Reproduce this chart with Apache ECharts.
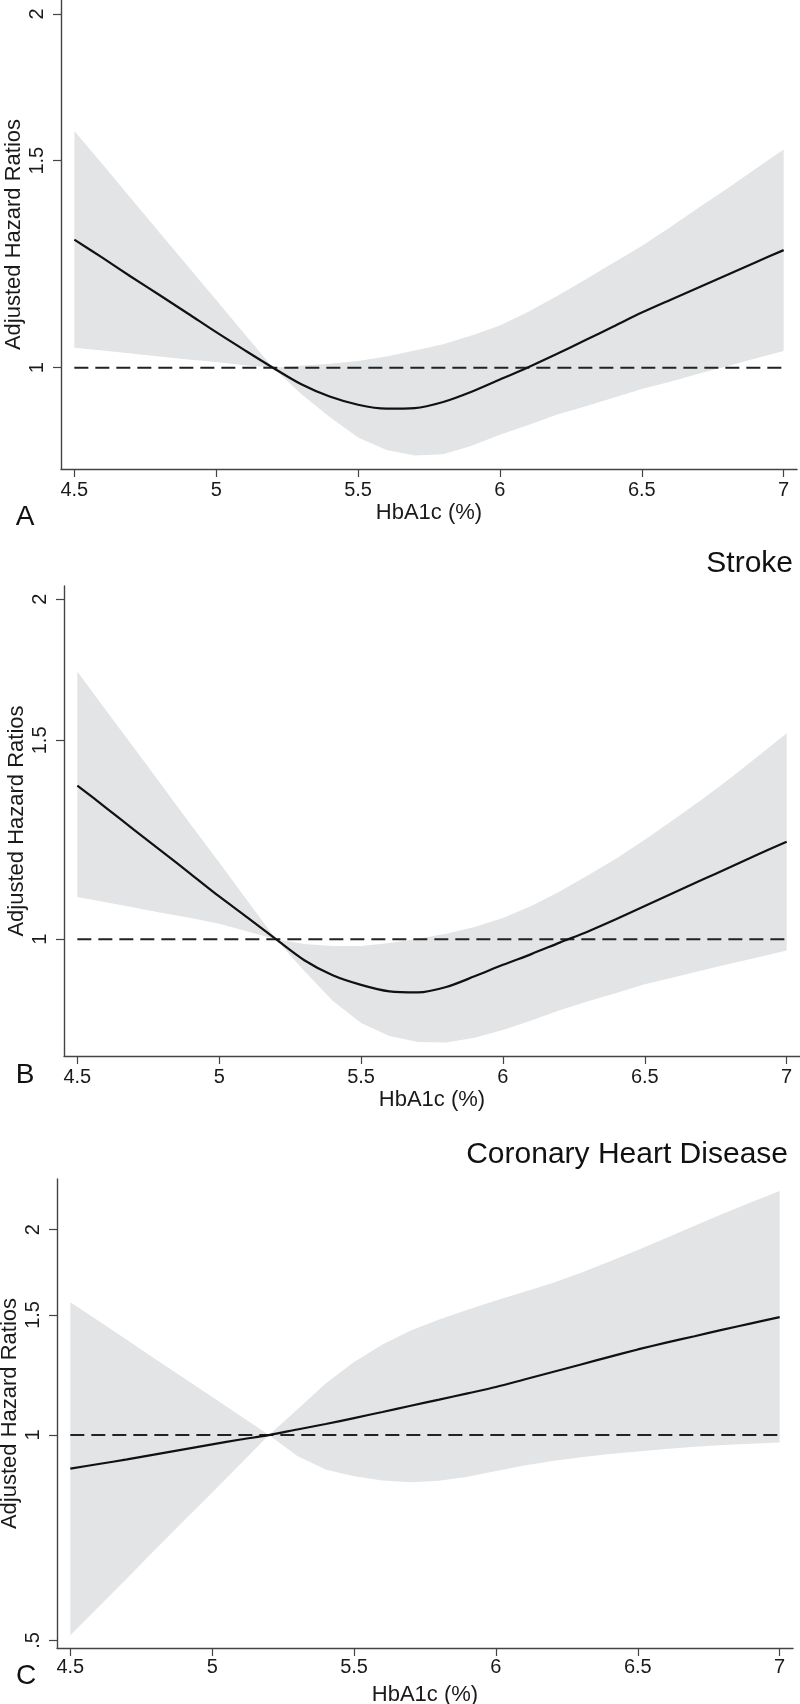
<!DOCTYPE html>
<html>
<head>
<meta charset="utf-8">
<script src="https://cdn.jsdelivr.net/npm/echarts@6/dist/echarts.min.js"></script>
<style>
html,body{margin:0;padding:0;background:#fff;}
#chart{width:800px;height:1704px;}
</style>
</head>
<body>
<div id="chart"></div>
<script>
// HbA1c grid (x values)
const hba1c = [4.5,4.6,4.7,4.8,4.9,5.0,5.1,5.2,5.3,5.4,5.5,5.6,5.7,5.8,5.9,6.0,6.1,6.2,6.3,6.4,6.5,6.6,6.7,6.8,6.9,7.0];

// Panel A
const aHR = [1.285,1.240,1.195,1.153,1.112,1.072,1.035,1.000,0.968,0.945,0.930,0.923,0.924,0.935,0.954,0.977,1.001,1.027,1.055,1.084,1.114,1.142,1.170,1.199,1.229,1.259];
const aHi = [1.590,1.489,1.393,1.303,1.220,1.142,1.068,1.000,1.004,1.008,1.013,1.022,1.034,1.047,1.065,1.086,1.116,1.150,1.188,1.228,1.269,1.317,1.368,1.420,1.476,1.533];
const aLo = [1.040,1.034,1.028,1.022,1.016,1.011,1.005,1.000,0.950,0.908,0.872,0.851,0.842,0.844,0.858,0.877,0.894,0.912,0.927,0.943,0.959,0.973,0.988,1.003,1.018,1.033];

// Panel B: Stroke
const bHR = [1.368,1.308,1.250,1.195,1.142,1.091,1.045,1.000,0.958,0.929,0.911,0.899,0.897,0.907,0.927,0.949,0.970,0.993,1.016,1.042,1.070,1.099,1.128,1.158,1.189,1.220];
const bHi = [1.726,1.596,1.477,1.366,1.263,1.169,1.081,1.000,0.990,0.986,0.986,0.992,1.001,1.011,1.025,1.044,1.070,1.102,1.139,1.179,1.225,1.275,1.329,1.388,1.453,1.522];
const bLo = [1.090,1.078,1.067,1.055,1.044,1.032,1.016,1.000,0.937,0.882,0.843,0.821,0.811,0.810,0.818,0.831,0.847,0.865,0.881,0.896,0.912,0.925,0.938,0.951,0.964,0.977];

// Panel C: Coronary Heart Disease
const cHR = [0.893,0.907,0.921,0.937,0.953,0.969,0.985,1.000,1.019,1.038,1.059,1.081,1.104,1.127,1.151,1.176,1.206,1.237,1.269,1.302,1.335,1.366,1.396,1.427,1.458,1.489];
const cHi = [1.566,1.469,1.378,1.292,1.212,1.137,1.066,1.000,1.090,1.190,1.280,1.358,1.423,1.477,1.526,1.575,1.622,1.670,1.730,1.796,1.867,1.945,2.026,2.111,2.194,2.278];
const cLo = [0.509,0.560,0.617,0.680,0.749,0.824,0.908,1.000,0.932,0.890,0.870,0.858,0.853,0.857,0.869,0.886,0.902,0.916,0.928,0.938,0.946,0.954,0.961,0.967,0.971,0.975];

// Reference line (HR = 1) and ticks
const refX = [4.5, 7.0];
const refY = 1;
const xTicks = [4.5, 5, 5.5, 6, 6.5, 7];
const yTicksAB = [1, 1.5, 2];
const yTicksC = [0.5, 1, 1.5, 2];
const yTickLabelC = {0.5: '.5', 1: '1', 1.5: '1.5', 2: '2'};
const panelTitles = ['', 'Stroke', 'Coronary Heart Disease'];
const panelLetters = ['A', 'B', 'C'];
const xTitle = 'HbA1c (%)';
const yTitle = 'Adjusted Hazard Ratios';

const FONT = '"Liberation Sans", Arial, Helvetica, sans-serif';
const AX = '#444';

const panels = [
  {hr: aHR, hi: aHi, lo: aLo, grid: {left: 61, top: 0, width: 736, height: 469}, yMin: 0.820, yMax: 2.055, yTicks: yTicksAB, xGap: 33, xMargin: 11},
  {hr: bHR, hi: bHi, lo: bLo, grid: {left: 64, top: 586, width: 736, height: 470}, yMin: 0.788, yMax: 2.055, yTicks: yTicksAB, xGap: 33, xMargin: 11},
  {hr: cHR, hi: cHi, lo: cLo, grid: {left: 57, top: 1179, width: 736, height: 469}, yMin: 0.4874, yMax: 2.373, yTicks: yTicksC, xGap: 36, xMargin: 9}
];

const grids = [], xAxes = [], yAxes = [], series = [];
panels.forEach((p, i) => {
  grids.push(Object.assign({containLabel: false, outerBoundsMode: 'none'}, p.grid));
  xAxes.push({
    type: 'value', gridIndex: i, min: 4.453, max: 7.047,
    name: xTitle, nameLocation: 'middle', nameGap: p.xGap, nameMoveOverlap: false,
    nameTextStyle: {fontFamily: FONT, fontSize: 22, color: '#1a1a1a'},
    axisLine: {show: true, onZero: false, lineStyle: {color: AX, width: 1.4}},
    axisTick: {show: true, length: 8, customValues: xTicks, lineStyle: {color: AX, width: 1.2}},
    axisLabel: {customValues: xTicks, margin: p.xMargin, fontFamily: FONT, fontSize: 20, color: '#1a1a1a',
      formatter: v => String(v)},
    splitLine: {show: false}
  });
  yAxes.push({
    type: 'log', logBase: 10, gridIndex: i, min: p.yMin, max: p.yMax,
    name: yTitle, nameLocation: 'middle', nameGap: 36, nameMoveOverlap: false,
    nameTextStyle: {fontFamily: FONT, fontSize: 22, color: '#1a1a1a'},
    axisLine: {show: true, lineStyle: {color: AX, width: 1.4}},
    axisTick: {show: true, length: 8, customValues: p.yTicks, lineStyle: {color: AX, width: 1.2}},
    axisLabel: {customValues: p.yTicks, rotate: 90, margin: 14, fontFamily: FONT, fontSize: 20, color: '#1a1a1a',
      formatter: v => (yTickLabelC[v] !== undefined ? yTickLabelC[v] : String(v))},
    splitLine: {show: false},
    minorTick: {show: false}
  });
  const lo = p.lo, hi = p.hi;
  series.push({
    type: 'custom', xAxisIndex: i, yAxisIndex: i, z: 1, silent: true,
    data: hba1c.map((x, k) => [x, lo[k], hi[k]]),
    encode: {x: 0, y: [1, 2]},
    renderItem: function (params, api) {
      if (params.dataIndex !== 0) return null;
      const pts = [];
      for (let k = 0; k < hba1c.length; k++) pts.push(api.coord([hba1c[k], hi[k]]));
      for (let k = hba1c.length - 1; k >= 0; k--) pts.push(api.coord([hba1c[k], lo[k]]));
      return {type: 'polygon', shape: {points: pts}, style: {fill: '#e3e4e6', stroke: null}};
    }
  });
  series.push({
    type: 'line', xAxisIndex: i, yAxisIndex: i, z: 2, silent: true,
    data: refX.map(x => [x, refY]), showSymbol: false,
    lineStyle: {color: '#222', width: 2, type: [14, 7]}
  });
  series.push({
    type: 'line', xAxisIndex: i, yAxisIndex: i, z: 3, silent: true,
    data: hba1c.map((x, k) => [x, p.hr[k]]), showSymbol: false, smooth: 0.3,
    lineStyle: {color: '#111', width: 2.2}
  });
});

const graphics = [
  {type: 'text', x: 25, y: 517, style: {text: panelLetters[0], font: '28px ' + FONT, fill: '#111', align: 'center', verticalAlign: 'middle'}},
  {type: 'text', x: 25, y: 1075, style: {text: panelLetters[1], font: '28px ' + FONT, fill: '#111', align: 'center', verticalAlign: 'middle'}},
  {type: 'text', x: 26, y: 1676, style: {text: panelLetters[2], font: '28px ' + FONT, fill: '#111', align: 'center', verticalAlign: 'middle'}},
  {type: 'text', x: 793, y: 564, style: {text: panelTitles[1], font: '30px ' + FONT, fill: '#111', align: 'right', verticalAlign: 'middle'}},
  {type: 'text', x: 788, y: 1155, style: {text: panelTitles[2], font: '30px ' + FONT, fill: '#111', align: 'right', verticalAlign: 'middle'}}
];

const chart = echarts.init(document.getElementById('chart'), null, {renderer: 'canvas'});
chart.setOption({
  animation: false,
  backgroundColor: '#ffffff',
  grid: grids,
  xAxis: xAxes,
  yAxis: yAxes,
  series: series,
  graphic: graphics
});
</script>
</body>
</html>
